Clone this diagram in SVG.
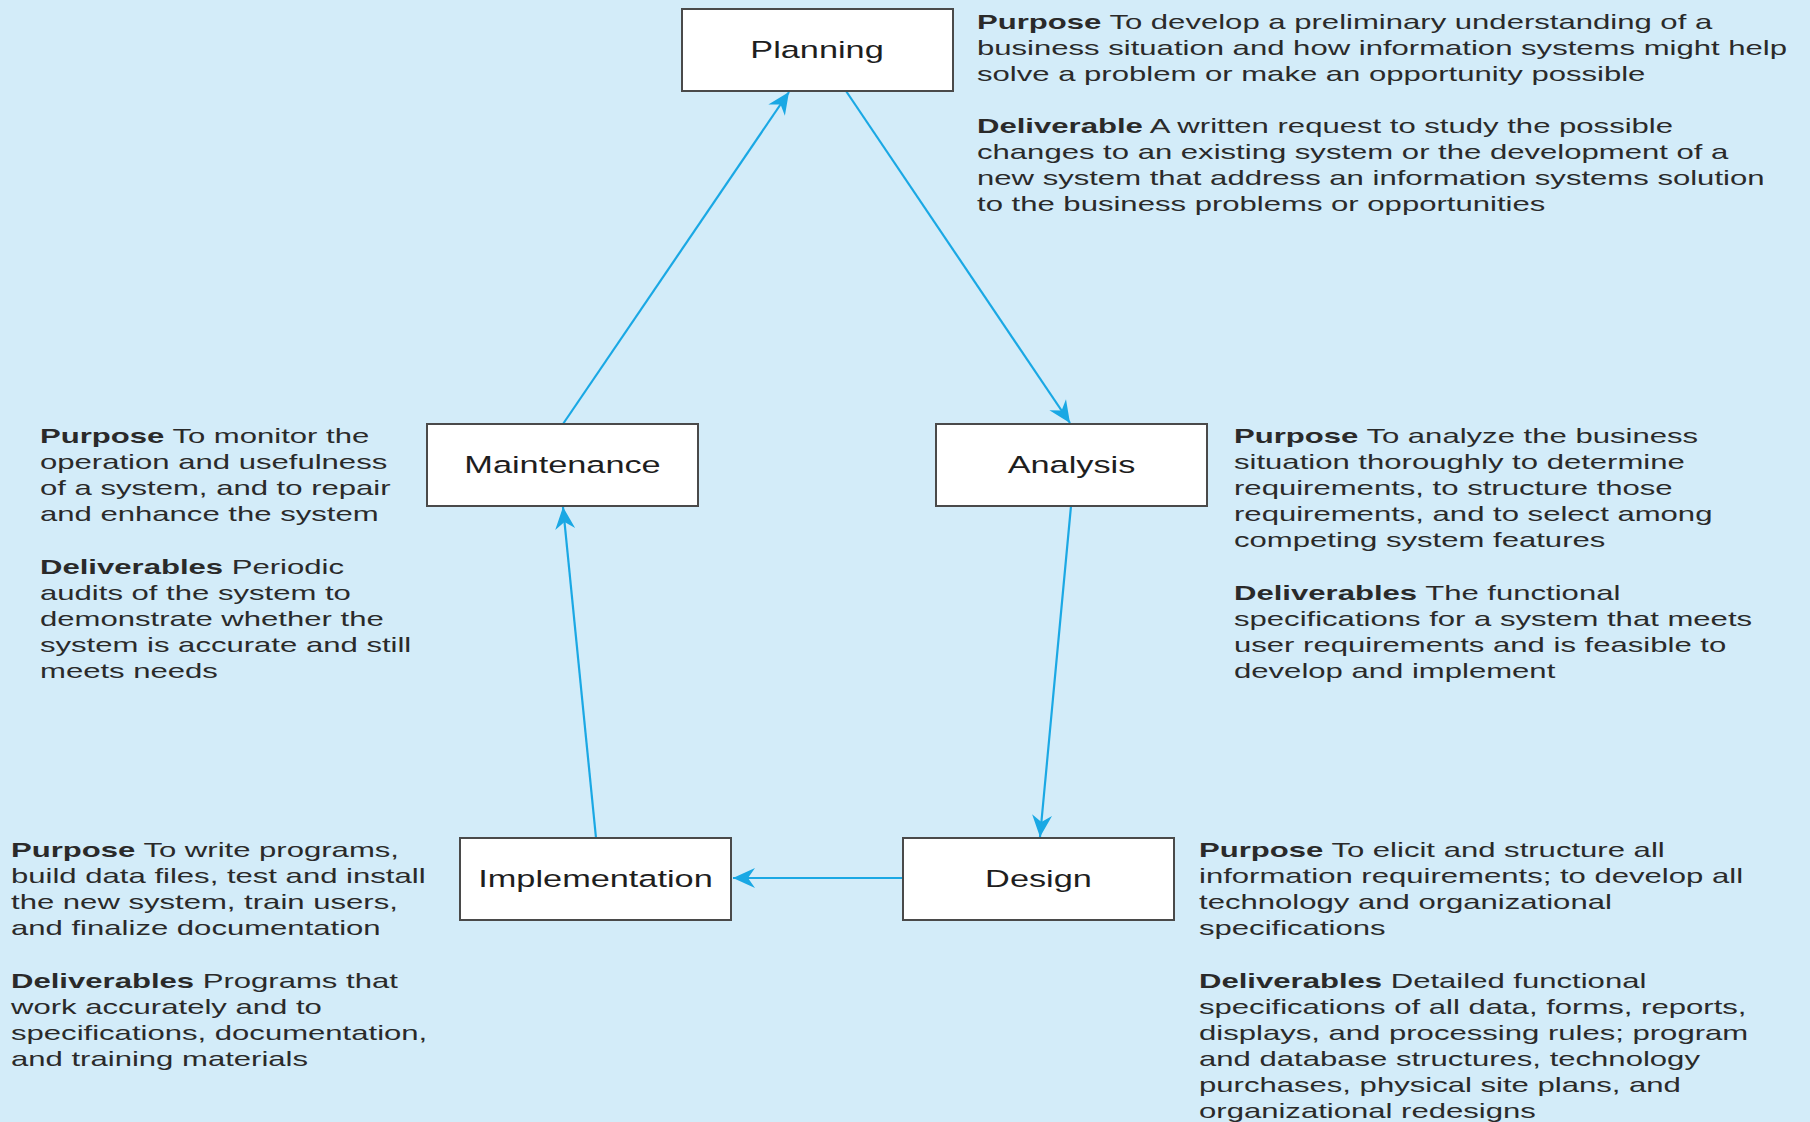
<svg xmlns="http://www.w3.org/2000/svg" width="1810" height="1122" viewBox="0 0 1810 1122">
<defs>
<style>
.box{fill:#ffffff;stroke:#4a4a4a;stroke-width:2}
.lbl{font-family:"Liberation Sans",Arial,sans-serif;font-size:23.5px;fill:#1e1e1e;text-anchor:middle}
.body{font-family:"Liberation Sans",Arial,sans-serif;font-size:21px;fill:#2a2a2a}
.b{font-weight:bold}
.conn{stroke:#1aa8e4;stroke-width:2.2;fill:none;marker-end:url(#ah)}
</style>
<marker id="ah" viewBox="-24 -11 26 22" refX="0" refY="0" markerWidth="26" markerHeight="22" orient="auto" markerUnits="userSpaceOnUse">
<path d="M0,0 L-22,-10 L-15,0 L-22,10 Z" fill="#1aa8e4"/>
</marker>
</defs>
<rect x="0" y="0" width="1810" height="1122" fill="#d3ecf9"/>

<g id="connectors">
<line class="conn" x1="563" y1="424" x2="789" y2="92"/>
<line class="conn" x1="846" y1="91" x2="1070" y2="423"/>
<line class="conn" x1="1071" y1="506" x2="1040" y2="837"/>
<line class="conn" x1="903" y1="878" x2="733" y2="878"/>
<line class="conn" x1="596" y1="838" x2="563" y2="507"/>
</g>

<g id="planning">
<rect class="box" x="682" y="9" width="271" height="82"/>
<g transform="translate(817,58) scale(1.46,1)"><text class="lbl" x="0" y="0">Planning</text></g>
</g>
<g id="maintenance">
<rect class="box" x="427" y="424" width="271" height="82"/>
<g transform="translate(562.5,473) scale(1.46,1)"><text class="lbl" x="0" y="0">Maintenance</text></g>
</g>
<g id="analysis">
<rect class="box" x="936" y="424" width="271" height="82"/>
<g transform="translate(1071.5,473) scale(1.46,1)"><text class="lbl" x="0" y="0">Analysis</text></g>
</g>
<g id="implementation">
<rect class="box" x="460" y="838" width="271" height="82"/>
<g transform="translate(595.5,887) scale(1.46,1)"><text class="lbl" x="0" y="0">Implementation</text></g>
</g>
<g id="design">
<rect class="box" x="903" y="838" width="271" height="82"/>
<g transform="translate(1038.5,887) scale(1.46,1)"><text class="lbl" x="0" y="0">Design</text></g>
</g>

<g id="planning-notes" transform="translate(977,0) scale(1.48,1)">
<text class="body">
<tspan x="0" y="29"><tspan class="b">Purpose</tspan> To develop a preliminary understanding of a</tspan>
<tspan x="0" y="55">business situation and how information systems might help</tspan>
<tspan x="0" y="81">solve a problem or make an opportunity possible</tspan>
<tspan x="0" y="133"><tspan class="b">Deliverable</tspan> A written request to study the possible</tspan>
<tspan x="0" y="159">changes to an existing system or the development of a</tspan>
<tspan x="0" y="185">new system that address an information systems solution</tspan>
<tspan x="0" y="211">to the business problems or opportunities</tspan>
</text>
</g>

<g id="maintenance-notes" transform="translate(40,0) scale(1.48,1)">
<text class="body">
<tspan x="0" y="443"><tspan class="b">Purpose</tspan> To monitor the</tspan>
<tspan x="0" y="469">operation and usefulness</tspan>
<tspan x="0" y="495">of a system, and to repair</tspan>
<tspan x="0" y="521">and enhance the system</tspan>
<tspan x="0" y="574"><tspan class="b">Deliverables</tspan> Periodic</tspan>
<tspan x="0" y="600">audits of the system to</tspan>
<tspan x="0" y="626">demonstrate whether the</tspan>
<tspan x="0" y="652">system is accurate and still</tspan>
<tspan x="0" y="678">meets needs</tspan>
</text>
</g>

<g id="analysis-notes" transform="translate(1234,0) scale(1.48,1)">
<text class="body">
<tspan x="0" y="443"><tspan class="b">Purpose</tspan> To analyze the business</tspan>
<tspan x="0" y="469">situation thoroughly to determine</tspan>
<tspan x="0" y="495">requirements, to structure those</tspan>
<tspan x="0" y="521">requirements, and to select among</tspan>
<tspan x="0" y="547">competing system features</tspan>
<tspan x="0" y="600"><tspan class="b">Deliverables</tspan> The functional</tspan>
<tspan x="0" y="626">specifications for a system that meets</tspan>
<tspan x="0" y="652">user requirements and is feasible to</tspan>
<tspan x="0" y="678">develop and implement</tspan>
</text>
</g>

<g id="implementation-notes" transform="translate(11,0) scale(1.48,1)">
<text class="body">
<tspan x="0" y="857"><tspan class="b">Purpose</tspan> To write programs,</tspan>
<tspan x="0" y="883">build data files, test and install</tspan>
<tspan x="0" y="909">the new system, train users,</tspan>
<tspan x="0" y="935">and finalize documentation</tspan>
<tspan x="0" y="988"><tspan class="b">Deliverables</tspan> Programs that</tspan>
<tspan x="0" y="1014">work accurately and to</tspan>
<tspan x="0" y="1040">specifications, documentation,</tspan>
<tspan x="0" y="1066">and training materials</tspan>
</text>
</g>

<g id="design-notes" transform="translate(1199,0) scale(1.48,1)">
<text class="body">
<tspan x="0" y="857"><tspan class="b">Purpose</tspan> To elicit and structure all</tspan>
<tspan x="0" y="883">information requirements; to develop all</tspan>
<tspan x="0" y="909">technology and organizational</tspan>
<tspan x="0" y="935">specifications</tspan>
<tspan x="0" y="988"><tspan class="b">Deliverables</tspan> Detailed functional</tspan>
<tspan x="0" y="1014">specifications of all data, forms, reports,</tspan>
<tspan x="0" y="1040">displays, and processing rules; program</tspan>
<tspan x="0" y="1066">and database structures, technology</tspan>
<tspan x="0" y="1092">purchases, physical site plans, and</tspan>
<tspan x="0" y="1118">organizational redesigns</tspan>
</text>
</g>
</svg>
